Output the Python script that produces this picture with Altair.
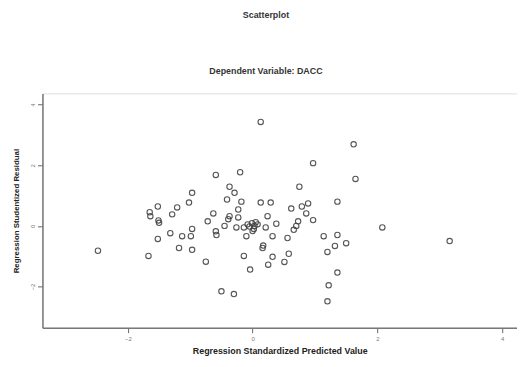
import altair as alt
import pandas as pd

pred = [-2.48, -1.67, -1.65, -1.64, -1.52, -1.51, -1.50, -1.52, -1.32, -1.29,
        -1.21, -1.18, -1.13, -1.02, -0.99, -0.97, -0.97, -0.97, -0.75, -0.72,
        -0.63, -0.59, -0.59, -0.58, -0.50, -0.45, -0.41, -0.39, -0.37, -0.37,
        -0.30, -0.29, -0.26, -0.23, -0.23, -0.20, -0.18, -0.14, -0.14, -0.10,
        -0.08, -0.04, -0.01, 0.00, 0.02, 0.03, 0.05, 0.08, -0.05, 0.13,
        0.13, 0.16, 0.17, 0.21, 0.24, 0.29, 0.32, 0.32, 0.25, 0.38,
        0.51, 0.56, 0.58, 0.62, 0.66, 0.70, 0.73, 0.75, 0.79, 0.86,
        0.89, 0.97, 0.97, 1.14, 1.20, 1.20, 1.22, 1.32, 1.36, 1.36,
        1.36, 1.50, 1.62, 1.65, 2.08, 3.16]
resid = [-0.82, -0.99, 0.45, 0.32, 0.64, 0.18, 0.10, -0.43, -0.24, 0.38,
         0.61, -0.73, -0.34, 0.77, -0.34, 1.09, -0.10, -0.79, -1.18, 0.15,
         0.41, 1.68, -0.18, -0.30, -2.16, 0.00, 0.87, 0.22, 1.29, 0.32,
         -2.25, 1.09, -0.05, 0.54, 0.28, 1.77, 0.80, -0.05, -0.99, -0.34,
         0.05, -1.44, 0.09, -0.17, -0.10, 0.00, 0.12, 0.05, -0.02, 3.43,
         0.77, -0.73, -0.65, -0.05, 0.32, 0.77, -0.34, -1.02, -1.28, 0.07,
         -1.19, -0.40, -0.92, 0.57, -0.13, 0.00, 0.15, 1.29, 0.64, 0.41,
         0.74, 2.07, 0.19, -0.34, -0.86, -2.49, -1.96, -0.66, 0.80, -0.30,
         -1.54, -0.57, 2.69, 1.55, -0.05, -0.50]

df = pd.DataFrame({"pred": pred, "resid": resid})

chart = alt.Chart(df).mark_point(
    shape="circle", filled=False, size=30, stroke="#444444", strokeWidth=1.1, opacity=0.9
).encode(
    x=alt.X("pred:Q", scale=alt.Scale(domain=[-3.37, 4.24], nice=False, zero=False),
            axis=alt.Axis(values=[-2, 0, 2, 4], title="Regression Standardized Predicted Value",
                          grid=False, domain=True, domainColor="#777", domainWidth=1.5,
                          tickColor="#666", tickSize=5,
                          labelFontSize=6, labelColor="#777", labelPadding=3,
                          titleFontSize=9, titleFontWeight="bold", titleColor="#222",
                          titlePadding=5, titleFont="Liberation Sans")),
    y=alt.Y("resid:Q", scale=alt.Scale(domain=[-3.36, 4.37], nice=False, zero=False),
            axis=alt.Axis(values=[-2, 0, 2, 4], title="Regression Studentized Residual",
                          grid=False, domain=True, domainColor="#777", domainWidth=1.5,
                          tickColor="#666", tickSize=5,
                          labelFontSize=6, labelColor="#777", labelPadding=2,
                          labelAngle=-90, labelAlign="center", labelBaseline="bottom",
                          titleFontSize=8, titleFontWeight="bold", titleColor="#222",
                          titlePadding=9, titleFont="Liberation Sans")),
).properties(
    width=482, height=238,
    title=alt.Title("Scatterplot", subtitle="Dependent Variable: DACC",
                    fontSize=9, subtitleFontSize=9, fontWeight="bold",
                    subtitleFontWeight="bold", font="Liberation Sans",
                    subtitleFont="Liberation Sans", color="#333", subtitleColor="#333",
                    anchor="middle", subtitlePadding=48, offset=18, dx=-14),
    autosize=alt.AutoSizeParams(type="none"),
    padding={"left": 35, "top": 84, "right": 0, "bottom": 29},
).configure_view(
    fill="#f0f0f0", stroke="#999999", strokeWidth=1.5
).configure(background="white")

chart.save("out.html", embed_options={"renderer": "svg", "actions": False})
